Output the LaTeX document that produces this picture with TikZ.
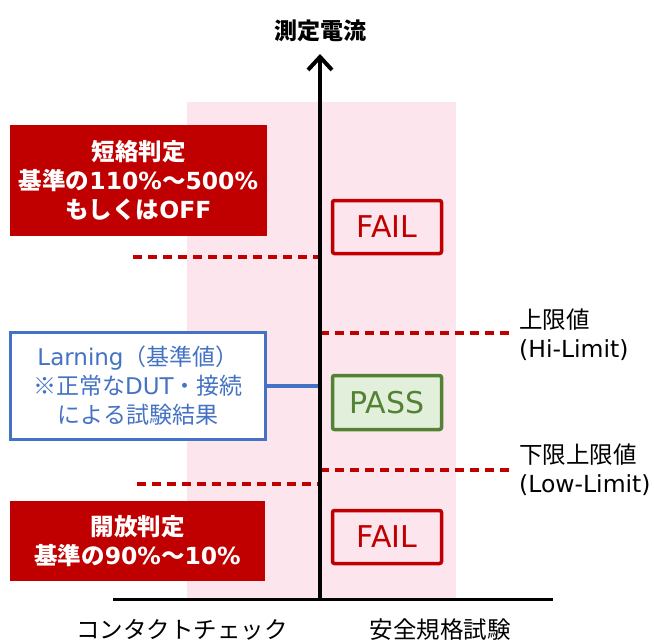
\documentclass[tikz,border=0pt]{standalone}
\usepackage{fontspec}
\setmainfont{Noto Sans CJK JP}
\newfontfamily\lat{DejaVu Sans}
\usetikzlibrary{arrows.meta}
\definecolor{jred}{RGB}{192,0,0}
\definecolor{jpink}{RGB}{252,229,236}
\definecolor{jblue}{RGB}{68,114,196}
\definecolor{jgreen}{RGB}{84,130,53}
\definecolor{jgreenfill}{RGB}{226,239,218}
\tikzset{
  redbox/.style={fill=jred, text=white, align=center, inner sep=0pt,
    font=\fontsize{23.5}{29}\selectfont\bfseries},
  bluebox/.style={draw=jblue, line width=3.5pt, fill=white, text=jblue, align=center, inner sep=0pt,
    font=\fontsize{23}{29}\selectfont},
  failbox/.style={draw=jred, line width=3.5pt, rounded corners=2pt, text=jred, inner sep=0pt,
    minimum width=109pt, minimum height=53pt, font=\fontsize{30}{34}\selectfont\lat},
  passbox/.style={draw=jgreen, line width=3.5pt, rounded corners=2pt, fill=jgreenfill, text=jgreen, inner sep=0pt,
    minimum width=109pt, minimum height=54pt, font=\fontsize{30}{34}\selectfont\lat},
  limdash/.style={draw=jred, line width=3.5pt, dash pattern=on 9pt off 6pt},
  lbl/.style={align=left, anchor=west, inner sep=0pt, font=\fontsize{23.5}{29}\selectfont},
  axlbl/.style={inner sep=0pt, font=\fontsize{23.5}{28}\selectfont},
}
\begin{document}
\begin{tikzpicture}[x=1pt,y=-1pt]
\useasboundingbox (0,0) rectangle (655,643);
% pink background band
\fill[jpink] (187,102) rectangle (456,599);

% coordinates
\coordinate (axbot) at (320,599);
\coordinate (axtop) at (320,54);
\coordinate (baseL) at (113,599);
\coordinate (baseR) at (553,599);
\coordinate (d1a) at (133,257);
\coordinate (d1b) at (320,257);
\coordinate (d2a) at (320,333);
\coordinate (d2b) at (510,333);
\coordinate (d3a) at (320,470);
\coordinate (d3b) at (510,470);
\coordinate (d4a) at (137,484);
\coordinate (d4b) at (320,484);
\coordinate (bluejoin) at (320,386);

% dashed limit lines
\draw[limdash] (d1a) -- (d1b);
\draw[limdash] (d2a) -- (d2b);
\draw[limdash] (d3a) -- (d3b);
\draw[limdash] (d4a) -- (d4b);

% boxes
\node[redbox, minimum width=257pt, minimum height=111pt] (short) at (138.5,180.5)
  {短絡判定\\基準の{\lat 110\%}～{\lat 500\%}\\もしくは{\lat OFF}};
\node[redbox, minimum width=255pt, minimum height=80pt] (open) at (137.5,541)
  {開放判定\\基準の{\lat 90\%}～{\lat 10\%}};
\node[bluebox, minimum width=255pt, minimum height=107pt] (learn) at (138,386)
  {{\lat Larning}（基準値）\\※正常な{\lat DUT}・接続\\による試験結果};
\draw[jblue, line width=3.5pt] (learn.east) -- (bluejoin);

\node[failbox] (fail1) at (387,227) {FAIL};
\node[passbox] (pass) at (387,402.5) {PASS};
\node[failbox] (fail2) at (387,537) {FAIL};

% axes
\draw[black, line width=3pt] (baseL) -- (baseR);
\draw[black, line width=4pt, -{Straight Barb[length=13pt,width=24pt,line width=4pt]}] (axbot) -- (axtop);

% labels
\node[axlbl, font=\fontsize{23}{28}\selectfont\bfseries] (ylab) at (320,31) {測定電流};
\node[axlbl] (xl1) at (182,630) {コンタクトチェック};
\node[axlbl] (xl2) at (440,630) {安全規格試験};
\node[lbl] (hi) at (519,335) {上限値\\{\lat (Hi-Limit)}};
\node[lbl] (lo) at (519,470) {下限上限値\\{\lat (Low-Limit)}};
\end{tikzpicture}
\end{document}
